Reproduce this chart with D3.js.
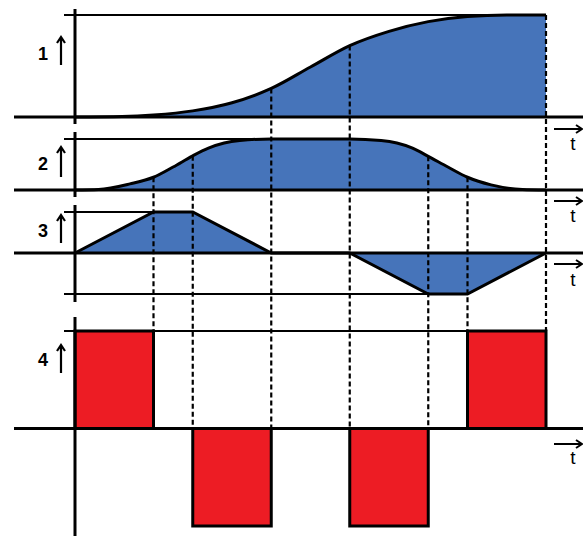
<!DOCTYPE html>
<html>
<head>
<meta charset="utf-8">
<script src="https://cdn.jsdelivr.net/npm/d3@7"></script>
<style>
  html, body { margin: 0; padding: 0; background: #fff; }
  svg { display: block; }
  text { font-family: "Liberation Sans", Arial, sans-serif; }
</style>
</head>
<body>
<svg id="chart" width="583" height="536"></svg>
<script>
// ---- data (time in segment units) ----
const panelLabels = ["1", "2", "3", "4"];
const axisLabel = "t";
const breakTimes = [0, 1, 1.5, 2.5, 3.5, 4.5, 5, 6];
const jerkValues = [1, 0, -1, 0, -1, 0, 1];          // per segment
const accelValues = [0, 1, 1, 0, 0, -1, -1, 0];      // at breakpoints
const velTimes  = [0, 0.3, 0.7, 1, 1.25, 1.5, 1.7, 1.9, 2.1, 2.5, 3.5, 3.9, 4.1, 4.3, 4.5, 4.75, 5, 5.3, 5.7, 6];
const velValues = [0, 0.01, 0.12, 0.25, 0.45, 0.67, 0.82, 0.92, 0.97, 1, 1, 0.97, 0.92, 0.82, 0.66, 0.45, 0.25, 0.1, 0.01, 0];
const posTimes  = [0, 0.6, 1, 1.5, 2, 2.5, 3, 3.5, 4, 4.5, 5, 5.5, 6];
const posValues = [0, 0.005, 0.02, 0.06, 0.14, 0.28, 0.49, 0.7, 0.84, 0.935, 0.985, 1, 1];

// ---- layout ----
const svg = d3.select("#chart");
const BLUE = "#4674BA", RED = "#ED1C24";
const x = d3.scaleLinear().domain([0, 6]).range([75, 546]);

const y1 = d3.scaleLinear().domain([0, 1]).range([117, 15]);
const y2 = d3.scaleLinear().domain([0, 1]).range([190, 139]);
const y3 = d3.scaleLinear().domain([-1, 1]).range([294, 212]);
const y4 = d3.scaleLinear().domain([-1, 1]).range([526, 331]);

const dashG = svg.append("g");
const g = svg.append("g");

// ---- panel 1: position ----
const pos = posTimes.map((t, i) => [t, posValues[i]]);
g.append("path").datum(pos)
  .attr("fill", BLUE)
  .attr("d", d3.area().x(d => x(d[0])).y0(y1(0)).y1(d => y1(d[1])).curve(d3.curveMonotoneX));
// ---- panel 2: velocity ----
const vel = velTimes.map((t, i) => [t, velValues[i]]);
g.append("path").datum(vel)
  .attr("fill", BLUE)
  .attr("d", d3.area().x(d => x(d[0])).y0(y2(0)).y1(d => y2(d[1])).curve(d3.curveMonotoneX));
// ---- panel 3: acceleration ----
const acc = breakTimes.map((t, i) => [t, accelValues[i]]);
g.append("path").datum(acc)
  .attr("fill", BLUE)
  .attr("d", d3.area().x(d => x(d[0])).y0(y3(0)).y1(d => y3(d[1])));

// reference lines (thin)
const thin = [
  [64, x(6), y1(1)],
  [64, x(3.5), y2(1)],
  [64, x(1.5), y3(1)],
  [64, x(5), y3(-1)],
  [64, x(6), y4(1)]
];
g.selectAll(".ref").data(thin).join("line")
  .attr("x1", d => d[0]).attr("x2", d => d[1])
  .attr("y1", d => d[2]).attr("y2", d => d[2])
  .attr("stroke", "#000").attr("stroke-width", 2);

// curves
g.append("path").datum(pos).attr("fill", "none").attr("stroke", "#000").attr("stroke-width", 3)
  .attr("d", d3.line().x(d => x(d[0])).y(d => y1(d[1])).curve(d3.curveMonotoneX));
g.append("path").datum(vel).attr("fill", "none").attr("stroke", "#000").attr("stroke-width", 3)
  .attr("d", d3.line().x(d => x(d[0])).y(d => y2(d[1])).curve(d3.curveMonotoneX));
g.append("path").datum(acc).attr("fill", "none").attr("stroke", "#000").attr("stroke-width", 3)
  .attr("stroke-linejoin", "miter")
  .attr("d", d3.line().x(d => x(d[0])).y(d => y3(d[1])));

// ---- panel 4: jerk ----
const segs = jerkValues.map((j, i) => ({ t0: breakTimes[i], t1: breakTimes[i + 1], j }));
g.selectAll(".jerk").data(segs.filter(d => d.j !== 0)).join("rect")
  .attr("x", d => x(d.t0))
  .attr("width", d => x(d.t1) - x(d.t0))
  .attr("y", d => Math.min(y4(d.j), y4(0)))
  .attr("height", d => Math.abs(y4(d.j) - y4(0)))
  .attr("fill", RED).attr("stroke", "#000").attr("stroke-width", 3);

// baselines
const baselines = [y1(0), y2(0), y3(0), y4(0)];
g.selectAll(".base").data(baselines).join("line")
  .attr("x1", 14).attr("x2", 583)
  .attr("y1", d => d).attr("y2", d => d)
  .attr("stroke", "#000").attr("stroke-width", 3);

// vertical axis segments
const vaxis = [[9, 124], [132, 197], [205, 302], [317, 536]];
g.selectAll(".vax").data(vaxis).join("line")
  .attr("x1", x(0)).attr("x2", x(0))
  .attr("y1", d => d[0]).attr("y2", d => d[1])
  .attr("stroke", "#000").attr("stroke-width", 3);

// dashed guide lines at breakpoints
function interp(ts, vs, t) {
  const i = ts.indexOf(t);
  if (i >= 0) return vs[i];
  return d3.scaleLinear().domain(ts).range(vs)(t);
}
const guides = breakTimes.slice(1).map((t, k) => {
  const i = k + 1;
  let top;
  if (t === 2.5 || t === 3.5 || t === 6) top = y1(interp(posTimes, posValues, t));
  else top = y2(interp(velTimes, velValues, t));
  const before = jerkValues[i - 1], after = jerkValues[i] === undefined ? 0 : jerkValues[i];
  const bottom = (before > 0 || after > 0) ? y4(1) : y4(0);
  return { t, top, bottom };
});
dashG.selectAll("line").data(guides).join("line")
  .attr("x1", d => x(d.t)).attr("x2", d => x(d.t))
  .attr("y1", d => d.top).attr("y2", d => d.bottom)
  .attr("stroke", "#000").attr("stroke-width", 2.2)
  .attr("stroke-dasharray", "5,3");
dashG.raise();

// time arrows + t labels
const arrowYs = [129, 201, 264, 444];
const tBase = [150, 222, 286, 464];
arrowYs.forEach((ay, i) => {
  g.append("path")
    .attr("d", `M554,${ay} L582,${ay} M576,${ay - 4} L582,${ay} L576,${ay + 4}`)
    .attr("fill", "none").attr("stroke", "#000").attr("stroke-width", 2);
  g.append("text").attr("x", 573).attr("y", tBase[i])
    .attr("text-anchor", "middle").attr("font-size", 19).text(axisLabel);
});

// panel labels with up arrows
const labelBase = [60, 170, 237, 366];
const arrowSpan = [[37, 65], [147, 177], [215, 243], [345, 373]];
panelLabels.forEach((lab, i) => {
  g.append("text").attr("x", 43).attr("y", labelBase[i])
    .attr("text-anchor", "middle").attr("font-size", 18).attr("font-weight", "bold").text(lab);
  const [a, b] = arrowSpan[i];
  g.append("path")
    .attr("d", `M61,${b} L61,${a} M57,${a + 6} L61,${a} L65,${a + 6}`)
    .attr("fill", "none").attr("stroke", "#000").attr("stroke-width", 2.2);
});
</script>
</body>
</html>
